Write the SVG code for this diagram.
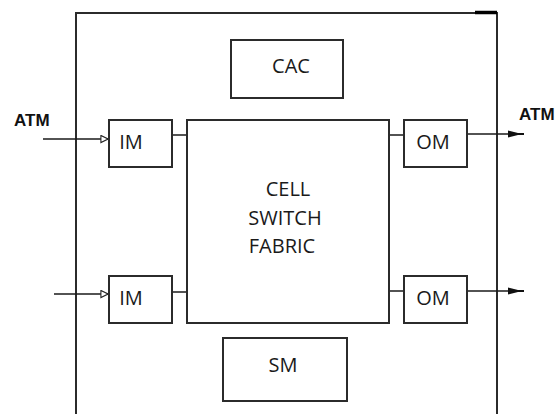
<svg xmlns="http://www.w3.org/2000/svg" width="560" height="414" viewBox="0 0 560 414">
<defs>
<style>
.box{fill:#fff;stroke:#2b2b2b;stroke-width:2}
.ln{stroke:#1a1a1a;stroke-width:1.5;fill:none}
.lbl{font-family:"Open Sans","Liberation Sans",sans-serif;font-size:20px;fill:#1a1a1a;text-anchor:middle}
.atm{font-family:"Liberation Sans",Arial,sans-serif;font-size:17px;font-weight:bold;fill:#111}
</style>
<marker id="open" viewBox="0 0 10 10" refX="10" refY="5" markerWidth="9" markerHeight="9" markerUnits="userSpaceOnUse" orient="auto">
<path d="M1,1 L9,5 L1,9 Z" fill="#fff" stroke="#222" stroke-width="1.2"/>
</marker>
<marker id="fill" viewBox="0 0 16 8" refX="0" refY="4" markerWidth="16" markerHeight="8" markerUnits="userSpaceOnUse" orient="auto">
<path d="M0,0.5 L10,3 L16,3 L16,5 L10,5 L0,7.5 Z" fill="#111"/>
</marker>
</defs>
<rect width="560" height="414" fill="#fff"/>
<g id="outer">
<path d="M76,416 V13 H497 V416" fill="none" stroke="#2b2b2b" stroke-width="2"/>
<path d="M475,12.5 H497" stroke="#000" stroke-width="3.5"/>
</g>
<g id="connectors">
<path class="ln" d="M43,139 H109" marker-end="url(#open)"/>
<path class="ln" d="M54,294 H109" marker-end="url(#open)"/>
<path class="ln" d="M172,135 H187"/>
<path class="ln" d="M172,292 H187"/>
<path class="ln" d="M389,135 H404"/>
<path class="ln" d="M389,291 H404"/>
<path class="ln" d="M467,134 H508" marker-end="url(#fill)"/>
<path class="ln" d="M467,291 H508" marker-end="url(#fill)"/>
</g>
<g id="cac">
<rect class="box" x="231" y="40" width="112" height="58"/>
<text class="lbl" x="291" y="73">CAC</text>
</g>
<g id="im1">
<rect class="box" x="109" y="120" width="63" height="47"/>
<text class="lbl" x="131" y="149">IM</text>
</g>
<g id="im2">
<rect class="box" x="109" y="276" width="63" height="47"/>
<text class="lbl" x="131" y="305">IM</text>
</g>
<g id="om1">
<rect class="box" x="404" y="120" width="63" height="47"/>
<text class="lbl" x="433" y="149">OM</text>
</g>
<g id="om2">
<rect class="box" x="404" y="276" width="63" height="47"/>
<text class="lbl" x="433" y="305">OM</text>
</g>
<g id="fabric">
<rect class="box" x="187" y="120" width="202" height="203"/>
<text class="lbl" x="288" y="196">CELL</text>
<text class="lbl" x="285" y="225">SWITCH</text>
<text class="lbl" x="282" y="253">FABRIC</text>
</g>
<g id="sm">
<rect class="box" x="223" y="338" width="124" height="63"/>
<text class="lbl" x="283" y="372">SM</text>
</g>
<g id="labels">
<text class="atm" x="14" y="126">ATM</text>
<text class="atm" x="519" y="120">ATM</text>
</g>
</svg>
